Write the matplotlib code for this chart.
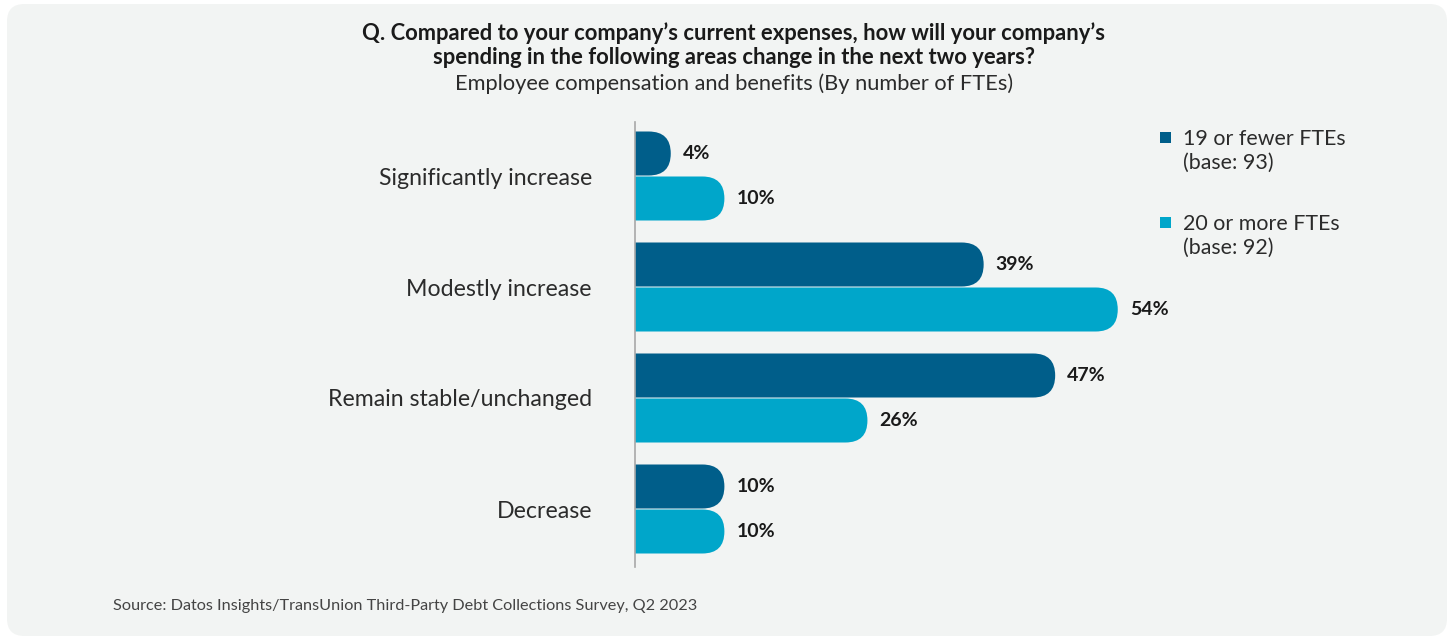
import matplotlib
matplotlib.use("Agg")
import matplotlib.pyplot as plt
from matplotlib.patches import FancyBboxPatch

# Survey answers and shares (%) per company size
categories = ["Significantly increase", "Modestly increase",
              "Remain stable/unchanged", "Decrease"]
small_firms = [4, 39, 47, 10]     # 19 or fewer FTEs
large_firms = [10, 54, 26, 10]    # 20 or more FTEs
series_names = ["19 or fewer FTEs\n(base: 93)", "20 or more FTEs\n(base: 92)"]

DARK = "#005e8a"
LIGHT = "#00a6ca"
PANEL = "#f2f4f3"
TEXT = "#1a1a1a"

plt.rcParams["font.family"] = ["Lato", "DejaVu Sans"]

W, H = 1450, 636
fig = plt.figure(figsize=(W / 100, H / 100), dpi=100)
fig.patch.set_facecolor("white")

# rounded background panel
panel = FancyBboxPatch((7 / W, 0 / H), (1447 - 7) / W, (H - 4) / H,
                       boxstyle="round,pad=0,rounding_size=0.012",
                       transform=fig.transFigure, facecolor=PANEL,
                       edgecolor="none", zorder=-5, mutation_aspect=W / H)
fig.patches.append(panel)

# axes placed in pixel terms
ax_left, ax_right, ax_top, ax_bottom = 635, 1400, 122, 567
ax = fig.add_axes([ax_left / W, 1 - ax_bottom / H,
                   (ax_right - ax_left) / W, (ax_bottom - ax_top) / H])
ax.set_facecolor("none")

px_per_pct = 8.94
ax.set_xlim(0, (ax_right - ax_left) / px_per_pct)
group_px = 111.0
ax.set_ylim(3 + (ax_bottom - 509) / group_px, -(176 - ax_top) / group_px)

bar_h = 44 / group_px
offset = 22.5 / group_px

fig.canvas.draw()
x_px = ax.transData.transform((1, 0))[0] - ax.transData.transform((0, 0))[0]
y_px = abs(ax.transData.transform((0, 1))[1] - ax.transData.transform((0, 0))[1])
aspect = x_px / y_px  # y data units per x data unit at equal pixel length
radius_x = (bar_h / 2) / aspect


def pill(value, yc, color):
    # bar with a square start at the axis and a fully rounded end
    left = -radius_x * 1.5
    p = FancyBboxPatch((left, yc - bar_h / 2), value - left, bar_h,
                       boxstyle=f"round,pad=0,rounding_size={radius_x}",
                       mutation_aspect=aspect, facecolor=color,
                       edgecolor="none", zorder=2, clip_on=True)
    ax.add_patch(p)
    ax.annotate(f"{value}%", (value, yc), xytext=(12, 0),
                textcoords="offset pixels", va="center", ha="left",
                fontsize=14, fontweight="bold", color=TEXT)


for i, (a, b) in enumerate(zip(small_firms, large_firms)):
    pill(a, i - offset, DARK)
    pill(b, i + offset, LIGHT)

for s in ["top", "right", "bottom"]:
    ax.spines[s].set_visible(False)
ax.spines["left"].set_color("#a8a8a8")
ax.spines["left"].set_linewidth(1.2)
ax.spines["left"].set_zorder(3)
ax.set_xticks([])
ax.set_yticks(range(len(categories)), categories)
ax.tick_params(axis="y", length=0, pad=31, labelsize=16.7, labelcolor="#2b2b2b")
for lbl in ax.get_yticklabels():
    lbl.set_verticalalignment("center_baseline")

# title block
fig.text(734 / W, 1 - 33 / H,
         "Q. Compared to your company\u2019s current expenses, how will your company\u2019s",
         ha="center", va="center", fontsize=15.8, fontweight="bold", color=TEXT)
fig.text(734 / W, 1 - 58 / H,
         "spending in the following areas change in the next two years?",
         ha="center", va="center", fontsize=15.8, fontweight="bold", color=TEXT)
fig.text(734 / W, 1 - 84 / H,
         "Employee compensation and benefits (By number of FTEs)",
         ha="center", va="center", fontsize=15.7, color="#2b2b2b")

# legend
for name, color, ytop in zip(series_names, [DARK, LIGHT], [137, 222]):
    fig.patches.append(plt.Rectangle((1160 / W, 1 - (ytop + 6) / H), 11 / W, 11 / H,
                                     transform=fig.transFigure, facecolor=color,
                                     edgecolor="none"))
    fig.text(1183 / W, 1 - (ytop - 8) / H, name, ha="left", va="top",
             fontsize=15.4, color="#2b2b2b", linespacing=1.25)

fig.text(113 / W, 1 - 606 / H,
         "Source: Datos Insights/TransUnion Third-Party Debt Collections Survey, Q2 2023",
         ha="left", va="center", fontsize=11.7, color="#444444")

fig.savefig("out.png", dpi=100, facecolor="white")
